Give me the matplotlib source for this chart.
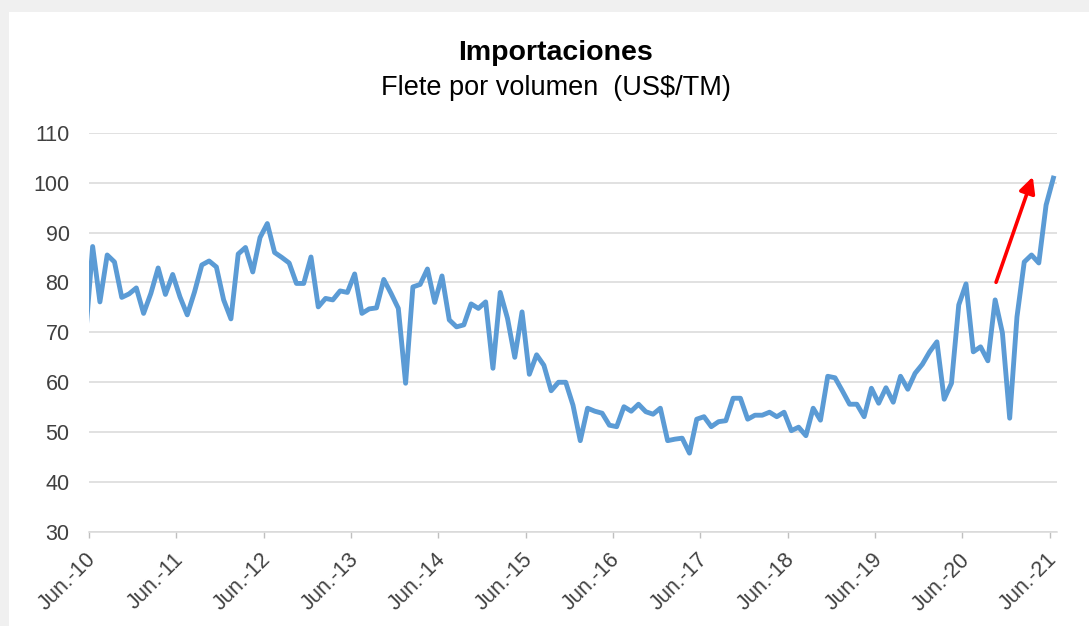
import matplotlib
matplotlib.use('Agg')
import matplotlib.pyplot as plt
import matplotlib.transforms as mtransforms
from matplotlib.patches import Rectangle
import numpy as np

plt.rcParams['font.family'] = ['Liberation Sans', 'DejaVu Sans']

# monthly freight per volume (US$/TM), may-10 (cut off at the left edge) to jun-21
flete = [68.7,
         87.2, 76.1, 85.5, 84.1, 77.0, 77.7, 78.9, 73.8, 77.8, 82.9, 77.6, 81.6,
         77.1, 73.5, 78.1, 83.5, 84.3, 83.1, 76.5, 72.7, 85.7, 87.0, 82.1, 89.0,
         91.8, 86.0, 85.0, 83.9, 79.8, 79.8, 85.1, 75.1, 76.8, 76.5, 78.3, 78.0,
         81.7, 73.8, 74.7, 74.9, 80.6, 77.8, 74.8, 59.8, 79.1, 79.6, 82.7, 76.0,
         81.3, 72.5, 71.1, 71.5, 75.7, 74.8, 76.1, 62.8, 78.0, 72.8, 65.0, 74.1,
         61.6, 65.5, 63.4, 58.3, 60.0, 60.0, 55.4, 48.3, 54.8, 54.2, 53.8, 51.4,
         51.1, 55.1, 54.2, 55.6, 54.1, 53.6, 54.8, 48.3, 48.6, 48.8, 45.8, 52.6,
         53.1, 51.1, 52.1, 52.3, 56.8, 56.8, 52.6, 53.4, 53.4, 54.0, 53.1, 54.0,
         50.3, 51.0, 49.3, 54.8, 52.4, 61.2, 60.9, 58.3, 55.6, 55.6, 53.1, 58.8,
         55.8, 58.9, 56.0, 61.2, 58.6, 61.8, 63.6, 66.1, 68.1, 56.6, 59.8, 75.5,
         79.7, 66.1, 67.1, 64.3, 76.5, 69.9, 52.8, 73.1, 84.1, 85.5, 83.9, 95.5,
         100.9]
tick_labels = ['Jun.-10', 'Jun.-11', 'Jun.-12', 'Jun.-13', 'Jun.-14', 'Jun.-15',
               'Jun.-16', 'Jun.-17', 'Jun.-18', 'Jun.-19', 'Jun.-20', 'Jun.-21']
y_ticks = [30, 40, 50, 60, 70, 80, 90, 100, 110]

# months counted from jun-10, points sit in the middle of each month
months = np.arange(len(flete)) - 1 + 0.5

fig = plt.figure(figsize=(10.89, 6.26), dpi=100)
fig.patch.set_facecolor('#F0F0F0')
# white chart area, grey strip on the left and top
fig.add_artist(Rectangle((9/1089, 0), 1, 1 - 12/626, transform=fig.transFigure,
                         facecolor='white', edgecolor='none', zorder=-1))

ax = fig.add_axes([89/1089, 1 - 532/626, (1057-89)/1089, (532-132.7)/626])
ax.plot(months, flete, color='#5B9BD5', lw=3.5, solid_joinstyle='round', zorder=3)

ax.set_xlim(0, 133)
ax.set_ylim(30, 110)
ax.set_yticks(y_ticks)
ax.set_xticks(np.arange(0, 133, 12))
ax.set_xticklabels(tick_labels, rotation=45, ha='right', va='center',
                   rotation_mode='anchor')
ax.tick_params(axis='y', length=0, pad=14, labelsize=15.5, labelcolor='#404040')
ax.tick_params(axis='x', length=4.3, width=1, color='#BFBFBF', pad=12,
               labelsize=15.5, labelcolor='#404040')
# nudge the rotated labels a little to the right
shift = mtransforms.ScaledTranslation(4/100, -2/100, fig.dpi_scale_trans)
for lab in ax.get_xticklabels():
    lab.set_transform(lab.get_transform() + shift)
ax.grid(axis='y', color='#D9D9D9', lw=1.1)
ax.set_axisbelow(True)
for s in ['top', 'right', 'left']:
    ax.spines[s].set_visible(False)
ax.spines['bottom'].set_color('#D9D9D9')
ax.spines['bottom'].set_linewidth(1.1)

# red arrow showing the recent jump
ax.annotate('', xy=(129.8, 101.7), xytext=(124.5, 79.5),
            arrowprops=dict(arrowstyle='-|>', color='red', lw=2.6, mutation_scale=24),
            zorder=4)

fig.text(555/1089, 1 - 53/626, 'Importaciones', ha='center', va='center',
         fontsize=20.5, fontweight='bold', color='black')
fig.text(556/1089, 1 - 88/626, 'Flete por volumen  (US$/TM)', ha='center', va='center',
         fontsize=19.5, color='black')

plt.savefig('out.png', dpi=100)
